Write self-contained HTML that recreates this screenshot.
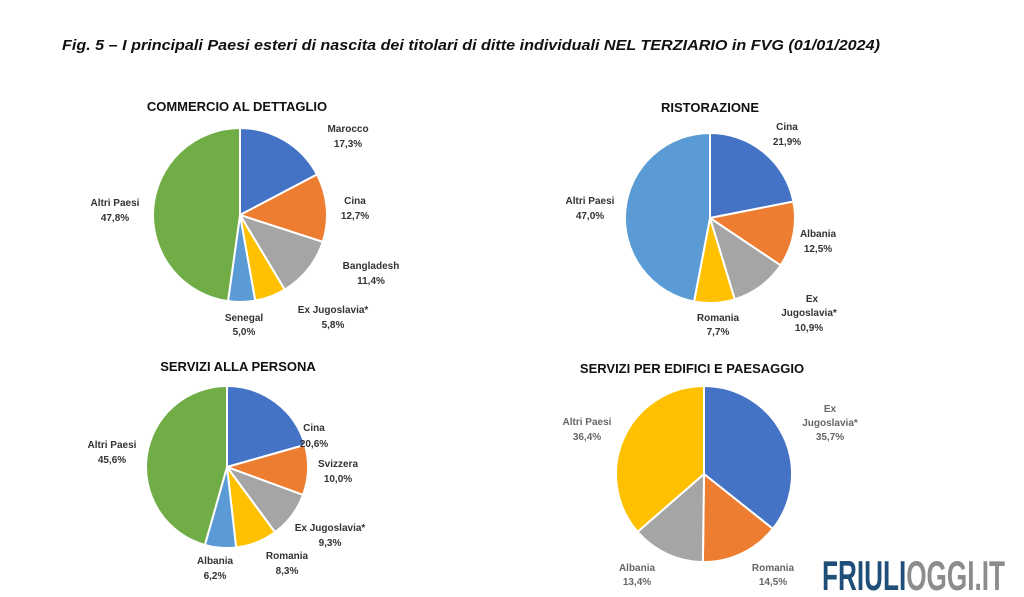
<!DOCTYPE html>
<html><head><meta charset="utf-8"><style>
html,body{margin:0;padding:0;background:#fff;}
svg{display:block;}
.t{font-family:"Liberation Sans",sans-serif;font-weight:bold;font-size:13px;fill:#111;text-anchor:middle;}
.l{font-family:"Liberation Sans",sans-serif;font-weight:bold;font-size:10px;fill:#333;text-anchor:middle;}
.g{fill:#666;}
</style></head><body>
<svg id="s" width="1024" height="597" viewBox="0 0 1024 597" xmlns="http://www.w3.org/2000/svg">
<text x="62" y="50" textLength="818" lengthAdjust="spacingAndGlyphs" style="font-family:'Liberation Sans',sans-serif;font-weight:bold;font-style:italic;font-size:15px;fill:#111">Fig. 5 – I principali Paesi esteri di nascita dei titolari di ditte individuali NEL TERZIARIO in FVG (01/01/2024)</text>
<g id="pies"></g>
<text class="t" x="237" y="111">COMMERCIO AL DETTAGLIO</text>
<text class="t" x="710" y="112">RISTORAZIONE</text>
<text class="t" x="238" y="371">SERVIZI ALLA PERSONA</text>
<text class="t" x="692" y="373">SERVIZI PER EDIFICI E PAESAGGIO</text>
<g class="l">
<text class="l" x="348" y="132">Marocco</text><text class="l" x="348" y="147">17,3%</text>
<text class="l" x="355" y="204">Cina</text><text class="l" x="355" y="219">12,7%</text>
<text class="l" x="371" y="269">Bangladesh</text><text class="l" x="371" y="284">11,4%</text>
<text class="l" x="333" y="313">Ex Jugoslavia*</text><text class="l" x="333" y="328">5,8%</text>
<text class="l" x="244" y="321">Senegal</text><text class="l" x="244" y="335">5,0%</text>
<text class="l" x="115" y="206">Altri Paesi</text><text class="l" x="115" y="221">47,8%</text>

<text class="l" x="787" y="130">Cina</text><text class="l" x="787" y="145">21,9%</text>
<text class="l" x="818" y="237">Albania</text><text class="l" x="818" y="252">12,5%</text>
<text class="l" x="812" y="302">Ex</text><text class="l" x="809" y="316">Jugoslavia*</text><text class="l" x="809" y="331">10,9%</text>
<text class="l" x="718" y="321">Romania</text><text class="l" x="718" y="335">7,7%</text>
<text class="l" x="590" y="204">Altri Paesi</text><text class="l" x="590" y="219">47,0%</text>

<text class="l" x="314" y="431">Cina</text><text class="l" x="314" y="447">20,6%</text>
<text class="l" x="338" y="467">Svizzera</text><text class="l" x="338" y="482">10,0%</text>
<text class="l" x="330" y="531">Ex Jugoslavia*</text><text class="l" x="330" y="546">9,3%</text>
<text class="l" x="287" y="559">Romania</text><text class="l" x="287" y="574">8,3%</text>
<text class="l" x="215" y="564">Albania</text><text class="l" x="215" y="579">6,2%</text>
<text class="l" x="112" y="448">Altri Paesi</text><text class="l" x="112" y="463">45,6%</text>

<text class="l g" x="830" y="412">Ex</text><text class="l g" x="830" y="426">Jugoslavia*</text><text class="l g" x="830" y="440">35,7%</text>
<text class="l g" x="587" y="425">Altri Paesi</text><text class="l g" x="587" y="440">36,4%</text>
<text class="l g" x="637" y="571">Albania</text><text class="l g" x="637" y="585">13,4%</text>
<text class="l g" x="773" y="571">Romania</text><text class="l g" x="773" y="585">14,5%</text>
</g>
<text x="822" y="590" textLength="183" lengthAdjust="spacingAndGlyphs" style="font-family:'Liberation Sans Narrow','Liberation Sans',sans-serif;font-weight:bold;font-size:42px"><tspan fill="#1F4E79">FRIULI</tspan><tspan fill="#8C8C8C">OGGI.IT</tspan></text>
</svg>
<script>
var C={b:"#4472C4",o:"#ED7D31",g:"#A5A5A5",y:"#FFC000",l:"#5B9BD5",gr:"#70AD47"};
var P=[
[240,215,87,[[17.3,"b"],[12.7,"o"],[11.4,"g"],[5.8,"y"],[5.0,"l"],[47.8,"gr"]]],
[710,218,85,[[21.9,"b"],[12.5,"o"],[10.9,"g"],[7.7,"y"],[47.0,"l"]]],
[227,467,81,[[20.6,"b"],[10.0,"o"],[9.3,"g"],[8.3,"y"],[6.2,"l"],[45.6,"gr"]]],
[704,474,88,[[35.7,"b"],[14.5,"o"],[13.4,"g"],[36.4,"y"]]]];
var h="";
P.forEach(function(p){var cx=p[0],cy=p[1],r=p[2],tot=0;p[3].forEach(function(s){tot+=s[0];});var a=0;
p[3].forEach(function(s){var a0=a/tot*2*Math.PI,a1=(a+s[0])/tot*2*Math.PI;a+=s[0];
var x0=cx+r*Math.sin(a0),y0=cy-r*Math.cos(a0),x1=cx+r*Math.sin(a1),y1=cy-r*Math.cos(a1);
h+='<path d="M'+cx+' '+cy+'L'+x0+' '+y0+'A'+r+' '+r+' 0 '+((a1-a0)>Math.PI?1:0)+' 1 '+x1+' '+y1+'Z" fill="'+C[s[1]]+'" stroke="#fff" stroke-width="2"/>';});});
document.getElementById("pies").innerHTML=h;
</script>
</body></html>
